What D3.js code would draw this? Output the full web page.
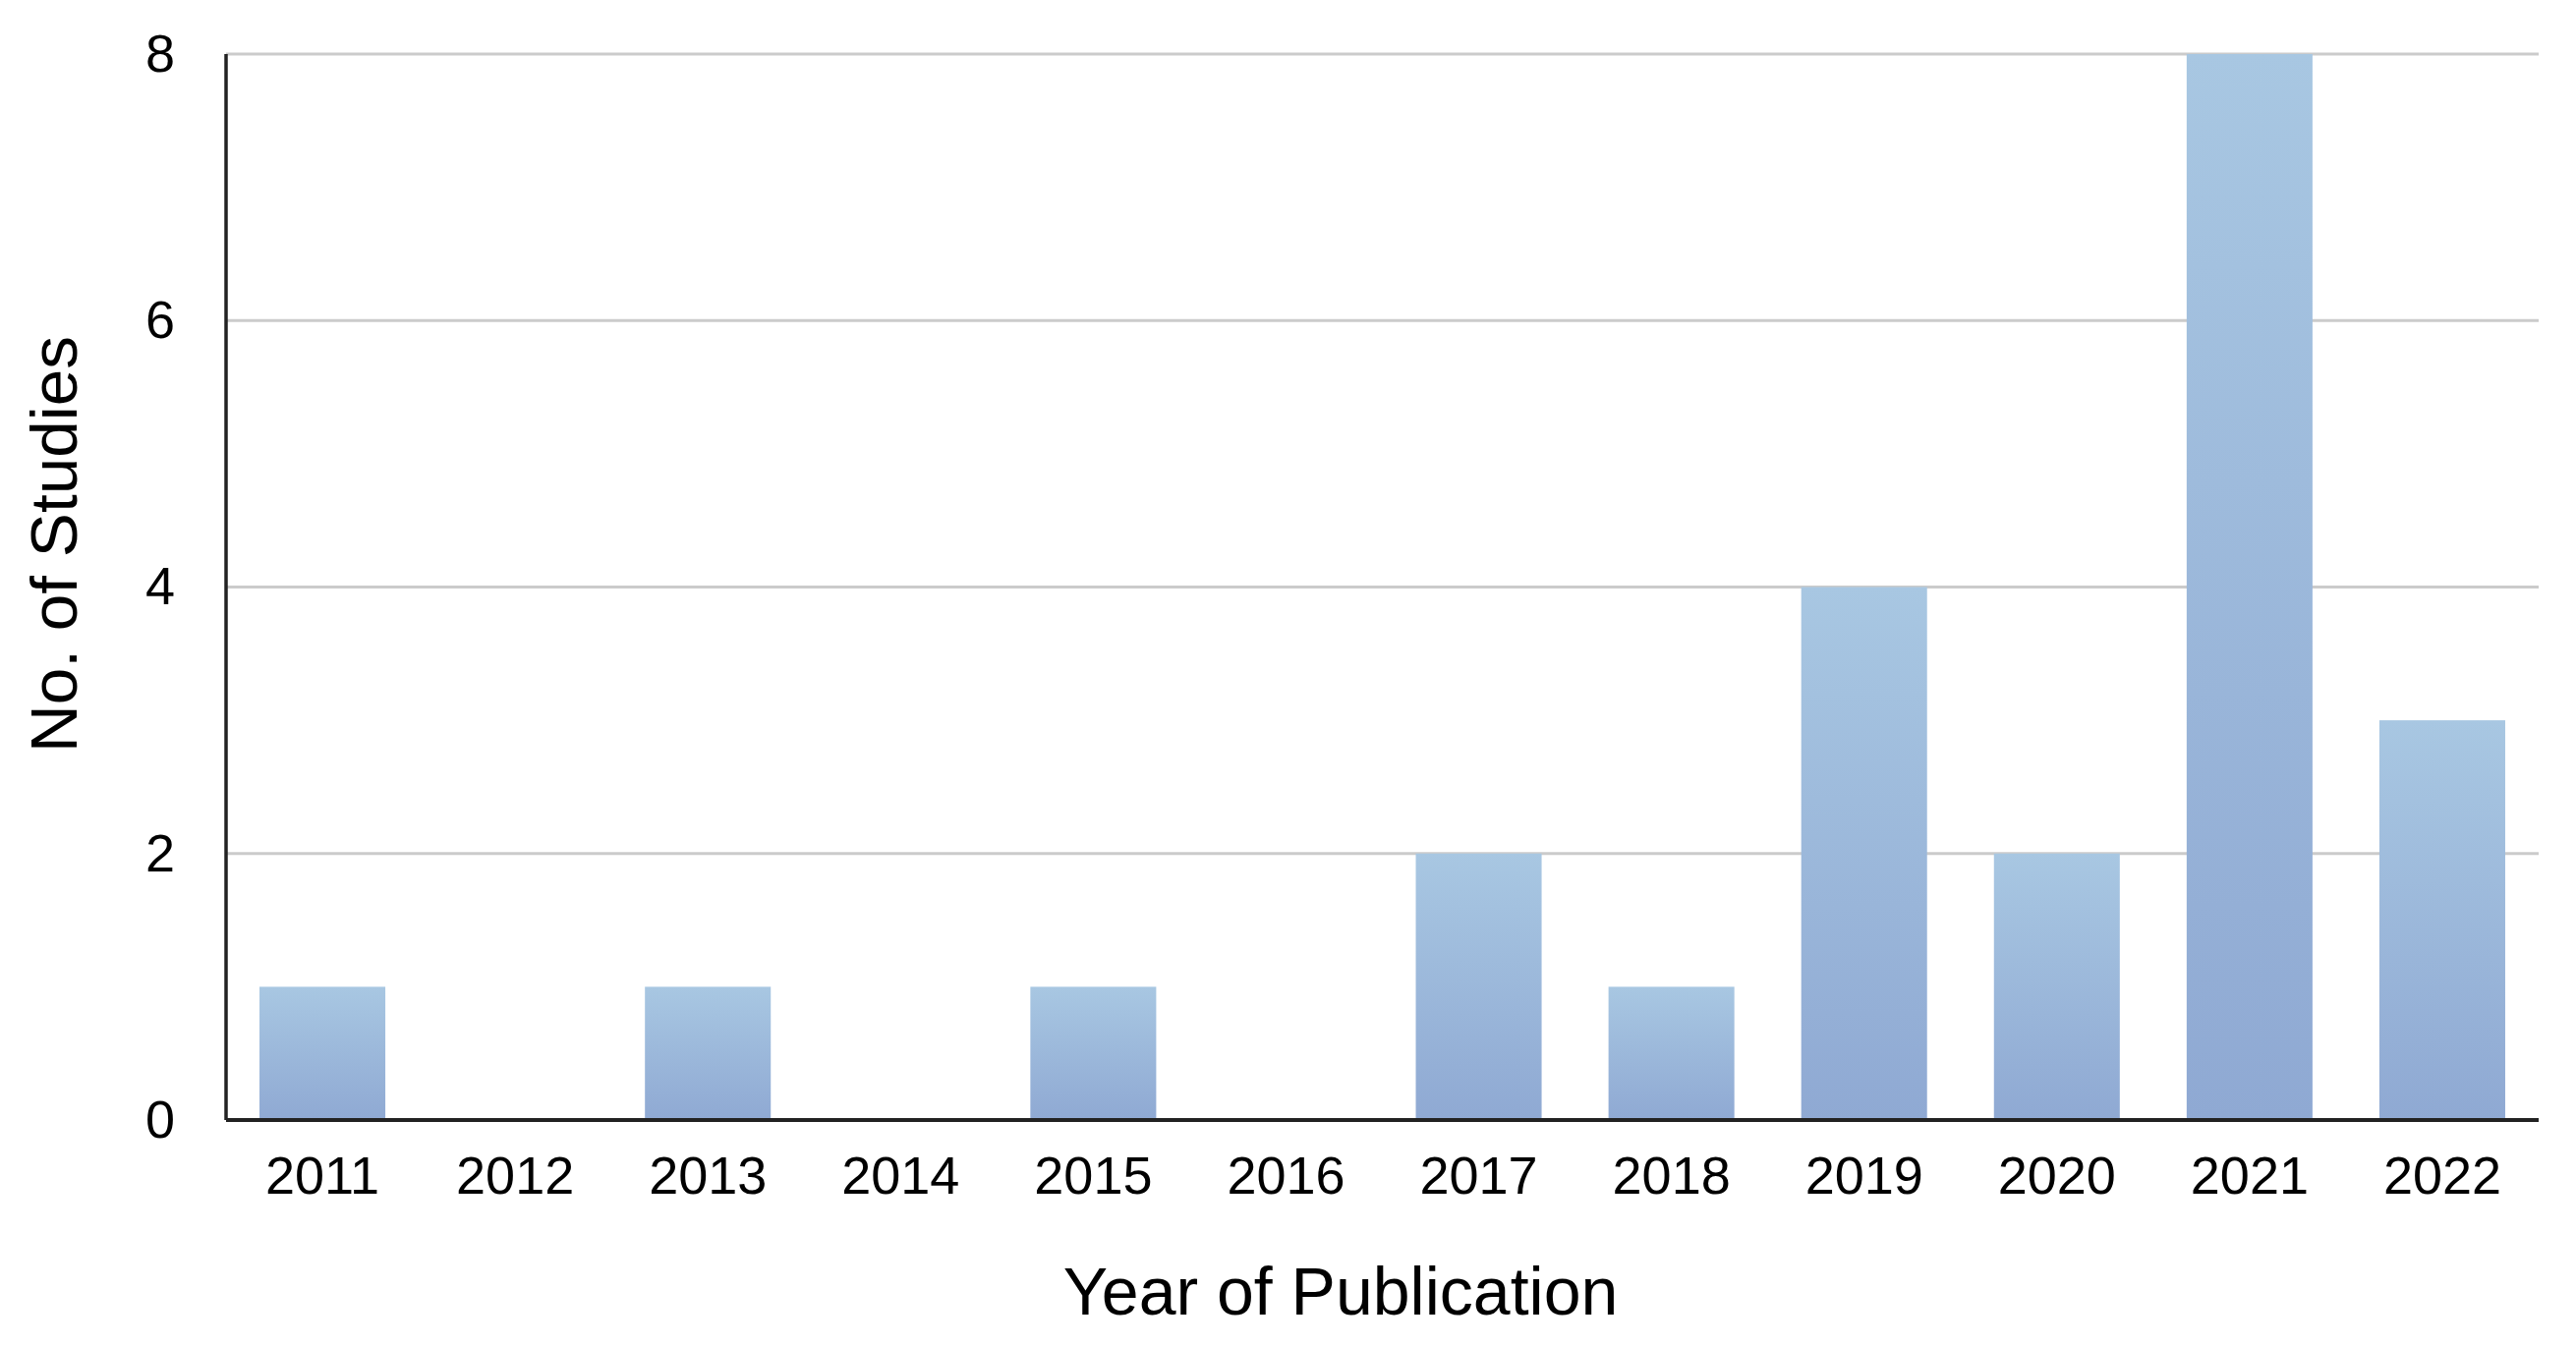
<!DOCTYPE html>
<html><head><meta charset="utf-8">
<script src="https://cdn.jsdelivr.net/npm/d3@7"></script>
<style>html,body{margin:0;padding:0;background:#fff;}svg{display:block;}</style>
</head><body>
<script>
const years = ["2011","2012","2013","2014","2015","2016","2017","2018","2019","2020","2021","2022"];
const studies = [1,0,1,0,1,0,2,1,4,2,8,3];
const yTicks = [0,2,4,6,8];
const xTitle = "Year of Publication";
const yTitle = "No. of Studies";

const W = 2621, H = 1370;
const m = {left:230, right:W-2583, top:55, bottom:H-1140};
const svg = d3.select("body").append("svg").attr("width",W).attr("height",H);
const defs = svg.append("defs");
const grad = defs.append("linearGradient").attr("id","bg").attr("x1",0).attr("y1",0).attr("x2",0).attr("y2",1);
grad.append("stop").attr("offset","0%").attr("stop-color","#a8c7e2");
grad.append("stop").attr("offset","100%").attr("stop-color","#8fa9d3");

const x = d3.scaleBand().domain(years).range([m.left, W-m.right]).paddingInner(0.347).paddingOuter(0.1735);
const y = d3.scaleLinear().domain([0,8]).range([H-m.bottom, m.top]);
const font = "'Liberation Sans', Arial, sans-serif";

// gridlines
svg.append("g").selectAll("line").data(yTicks.filter(d=>d>0)).join("line")
  .attr("x1",m.left).attr("x2",W-m.right).attr("y1",d=>y(d)).attr("y2",d=>y(d))
  .attr("stroke","#cbcbcb").attr("stroke-width",3);

// bars
svg.append("g").selectAll("rect").data(years.map((c,i)=>({c,v:studies[i]})).filter(d=>d.v>0)).join("rect")
  .attr("x",d=>x(d.c)).attr("width",x.bandwidth())
  .attr("y",d=>y(d.v)).attr("height",d=>y(0)-y(d.v))
  .attr("fill","url(#bg)");

// y axis
const ya = svg.append("g").attr("transform",`translate(${m.left},0)`)
  .call(d3.axisLeft(y).tickValues(yTicks).tickSize(0).tickPadding(52).tickFormat(d3.format("d")));
ya.select(".domain").attr("stroke","#222").attr("stroke-width",3.5).attr("d",`M0,${m.top}V${H-m.bottom}`);
ya.selectAll("text").attr("font-family",font).attr("font-size",54).attr("fill","#000");

// x axis
const xa = svg.append("g").attr("transform",`translate(0,${H-m.bottom})`)
  .call(d3.axisBottom(x).tickSize(0).tickPadding(37));
xa.select(".domain").attr("stroke","#222").attr("stroke-width",4).attr("d",`M${m.left},0H${W-m.right}`);
xa.selectAll("text").attr("font-family",font).attr("font-size",54).attr("fill","#000");

// titles
svg.append("text").attr("x",1364).attr("y",1338).attr("text-anchor","middle")
  .attr("font-family",font).attr("font-size",68).attr("fill","#000").text(xTitle);
svg.append("text").attr("transform",`translate(78,554) rotate(-90)`).attr("text-anchor","middle")
  .attr("font-family",font).attr("font-size",67.5).attr("fill","#000").text(yTitle);
</script>
</body></html>
